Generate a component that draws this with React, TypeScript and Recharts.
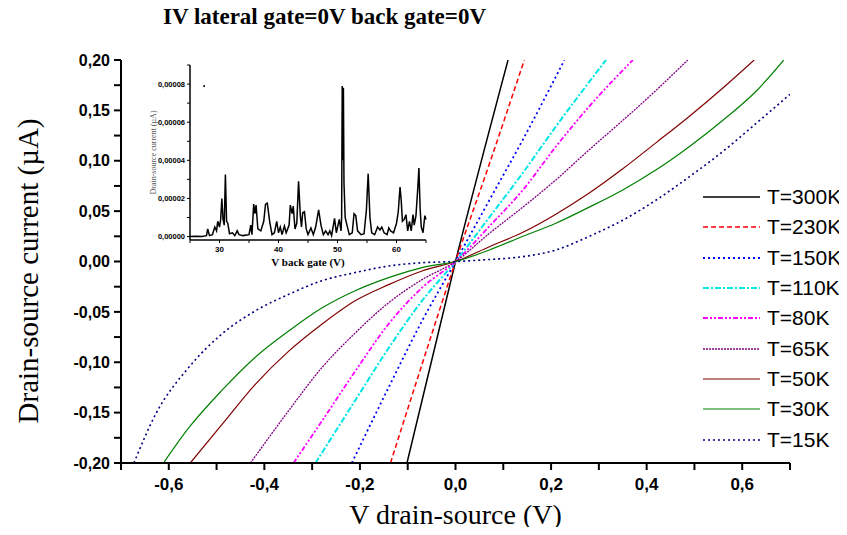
import React from "react";
import { LineChart, Line, XAxis, YAxis, Label, ReferenceDot } from "recharts";

// main I-V curves: drain-source voltage (V) and current (µA) per temperature
const T300_V = [-0.1015, 0, 0.11];
const T300_I = [-0.2, 0, 0.2];
const T230_V = [-0.136, -0.07, 0, 0.071, 0.144];
const T230_I = [-0.2, -0.102, 0, 0.097, 0.2];
const T150_V = [-0.217, -0.14, -0.07, 0, 0.071, 0.141, 0.228];
const T150_I = [-0.2, -0.125, -0.059, 0, 0.061, 0.121, 0.2];
const T110_V = [-0.293, -0.21, -0.14, -0.07, 0, 0.071, 0.141, 0.21, 0.315];
const T110_I = [-0.2, -0.138, -0.086, -0.039, 0, 0.044, 0.088, 0.134, 0.2];
const T80_V = [-0.339, -0.279, -0.21, -0.14, -0.07, 0, 0.071, 0.141, 0.21, 0.28, 0.371];
const T80_I = [-0.2, -0.158, -0.109, -0.062, -0.026, 0, 0.035, 0.071, 0.114, 0.154, 0.2];
const T65_V = [-0.429, -0.349, -0.279, -0.21, -0.14, -0.07, 0, 0.071, 0.141, 0.21, 0.28, 0.35, 0.42, 0.486];
const T65_I = [-0.2, -0.148, -0.105, -0.071, -0.041, -0.018, 0, 0.028, 0.054, 0.081, 0.111, 0.14, 0.17, 0.2];
const T50_V = [
  -0.555, -0.489, -0.419, -0.349, -0.279, -0.21, -0.14, -0.07, 0, 0.071, 0.141, 0.21, 0.28, 0.35, 0.42, 0.489,
  0.559, 0.625,
];
const T50_I = [
  -0.2, -0.162, -0.122, -0.089, -0.062, -0.039, -0.023, -0.0094, 0, 0.0147, 0.029, 0.047, 0.068, 0.092, 0.118,
  0.144, 0.172, 0.2,
];
const T30_V = [
  -0.611, -0.558, -0.489, -0.419, -0.349, -0.279, -0.21, -0.14, -0.07, 0, 0.071, 0.141, 0.21, 0.28, 0.35, 0.42,
  0.489, 0.559, 0.629, 0.687,
];
const T30_I = [
  -0.2, -0.165, -0.128, -0.095, -0.069, -0.046, -0.029, -0.016, -0.006, 0, 0.0114, 0.025, 0.038, 0.054, 0.071,
  0.091, 0.114, 0.14, 0.169, 0.2,
];
const T15_V = [
  -0.673, -0.628, -0.558, -0.489, -0.419, -0.349, -0.279, -0.21, -0.14, -0.07, 0, 0.071, 0.141, 0.21, 0.28, 0.35,
  0.42, 0.489, 0.559, 0.629, 0.7,
];
const T15_I = [
  -0.2, -0.152, -0.105, -0.072, -0.049, -0.0326, -0.019, -0.011, -0.0045, -0.0012, 0, 0.002, 0.0048, 0.0114,
  0.025, 0.041, 0.061, 0.084, 0.109, 0.137, 0.166,
];

// inset: back-gate sweep, current in units of 1e-5 µA
const GATE_V = [
  25, 26, 27, 27.8, 28, 28.3, 28.8, 29.2, 29.5, 29.7, 30, 30.2, 30.4, 30.6, 30.8, 31, 31.2, 31.4, 31.7,
  32.2, 32.6, 33, 33.3, 34, 35, 35.3, 35.5, 35.8, 36, 36.2, 36.5, 37, 37.5, 37.8, 38.1, 38.5, 38.9, 39.3,
  39.7, 40, 40.3, 40.6, 41, 41.3, 41.8, 42, 42.3, 42.5, 42.8, 43.1, 43.4, 43.7, 43.9, 44.1, 44.4, 44.7,
  45, 45.5, 45.9, 46.3, 46.8, 47.2, 47.6, 48, 48.4, 48.7, 49, 49.5, 49.8, 50.3, 50.6, 50.7, 50.8, 50.9,
  51, 51.1, 51.3, 51.6, 52, 52.5, 52.8, 53.1, 53.4, 54, 54.5, 54.9, 55.2, 55.5, 55.8, 56.3, 56.8, 57.2,
  57.5, 57.9, 58.4, 58.7, 59, 59.5, 60, 60.3, 60.6, 60.8, 61, 61.3, 61.6, 61.9, 62.2, 62.5, 62.8, 63,
  63.3, 63.6, 63.8, 64, 64.2, 64.5, 64.8, 65,
];
const GATE_I = [
  0, 0.02, 0, 0.05, 0.4, 0.05, 0.1, 0.5, 0.3, 0.8, 0.5, 0.9, 2.0, 0.9, 0.6, 3.25, 0.8, 0.7, 0.15,
  0.2, 0.05, 0.3, 0.1, 0.05, 0.1, 0.6, 0.1, 1.7, 1.2, 1.65, 0.4, 0.3, 0.8, 1.7, 1.75, 0.8, 0.1, 0.2,
  0.8, 0.2, 0.5, 0.1, 0.55, 0.2, 0.6, 1.65, 1.2, 1.6, 0.4, 0.7, 2.9, 1.1, 0.5, 1.25, 1.3, 0.4,
  0.1, 0.45, 0.1, 0.5, 1.4, 0.6, 0.1, 0.3, 0.1, 0.3, 0.05, 0.95, 0.2, 0.9, 0.3, 1.0, 7.9, 4.0,
  7.8, 2.8, 1.0, 0.6, 0.1, 0.2, 1.2, 1.1, 0.3, 0.1, 0.15, 1.4, 3.3, 1.0, 0.2, 0.1, 0.5, 0.35,
  0.5, 0.2, 0.1, 0.45, 0.3, 0.2, 0.7, 1.3, 2.6, 1.9, 0.8, 0.9, 1.15, 0.3, 0.8, 0.3, 1.15, 0.6,
  1.1, 2.5, 3.6, 1.5, 0.5, 0.2, 1.1, 0.9,
];

const X_TICKS = [-0.7, -0.6, -0.5, -0.4, -0.3, -0.2, -0.1, 0, 0.1, 0.2, 0.3, 0.4, 0.5, 0.6, 0.7];
const Y_TICKS = [
  -0.2, -0.175, -0.15, -0.125, -0.1, -0.075, -0.05, -0.025, 0, 0.025, 0.05, 0.075, 0.1, 0.125, 0.15,
  0.175, 0.2,
];
const INSET_X_TICKS = [25, 30, 35, 40, 45, 50, 55, 60, 65];
const INSET_Y_TICKS = [0, 1, 2, 3, 4, 5, 6, 7, 8, 9];

const zip = (vs: number[], is: number[]) => vs.map((v, k) => ({ v, i: is[k] }));

const series = [
  { name: "T=300K", data: zip(T300_V, T300_I), color: "#000000", dash: undefined, w: 1.5 },
  { name: "T=230K", data: zip(T230_V, T230_I), color: "#ff0000", dash: "5 3", w: 1.5 },
  { name: "T=150K", data: zip(T150_V, T150_I), color: "#0000ff", dash: "2 3", w: 1.8 },
  { name: "T=110K", data: zip(T110_V, T110_I), color: "#00e5e5", dash: "6 2 2 2", w: 2 },
  { name: "T=80K", data: zip(T80_V, T80_I), color: "#ff00ff", dash: "5 2 2 2 2 2", w: 1.8 },
  { name: "T=65K", data: zip(T65_V, T65_I), color: "#800080", dash: "2 1", w: 1.3 },
  { name: "T=50K", data: zip(T50_V, T50_I), color: "#800000", dash: undefined, w: 1.2 },
  { name: "T=30K", data: zip(T30_V, T30_I), color: "#008000", dash: undefined, w: 1.2 },
  { name: "T=15K", data: zip(T15_V, T15_I), color: "#000080", dash: "2 3", w: 1.6 },
];

const insetData = GATE_V.map((x, k) => ({ x, y: GATE_I[k] }));

const sans = "'Liberation Sans', Arial, sans-serif";
const serif = "'Liberation Serif', 'Times New Roman', serif";

const fmtX = (v: number) => (Math.round(v * 10) % 2 === 0 ? v.toFixed(1).replace(".", ",") : "");
const fmtY = (v: number) => (Math.round(v * 1000) % 50 === 0 ? v.toFixed(2).replace(".", ",") : "");
const fmtInsetY = (v: number) => (v % 2 === 0 ? (v * 1e-5).toFixed(5).replace(".", ",") : "");

const YTitle = () => (
  <text
    x={28}
    y={271}
    transform="rotate(-90 28 271)"
    textAnchor="middle"
    dominantBaseline="central"
    style={{ fontFamily: serif, fontSize: 29, fill: "#000" }}
  >
    Drain-source current (µA)
  </text>
);

export default function App() {
  return (
    <div style={{ position: "relative", width: 847, height: 535, margin: -8, background: "#fff" }}>
      <div
        style={{
          position: "absolute",
          left: 163,
          top: 5,
          fontFamily: serif,
          fontWeight: "bold",
          fontSize: 23,
          lineHeight: "23px",
          whiteSpace: "nowrap",
          color: "#000",
        }}
      >
        IV lateral gate=0V back gate=0V
      </div>

      <LineChart width={847} height={535} margin={{ top: 60, right: 57, bottom: 0, left: 16 }}>
        <XAxis
          type="number"
          dataKey="v"
          domain={[-0.7, 0.7]}
          ticks={X_TICKS}
          interval={0}
          allowDataOverflow
          tickFormatter={fmtX}
          height={72}
          tickSize={7}
          tickMargin={8}
          axisLine={{ stroke: "#000", strokeWidth: 2 }}
          tickLine={{ stroke: "#000", strokeWidth: 2 }}
          tick={{ fill: "#000", fontSize: 17, fontWeight: "bold", fontFamily: sans }}
        >
          <Label
            value="V drain-source (V)"
            position="insideBottom"
            offset={11}
            style={{ fontFamily: serif, fontSize: 28, fill: "#000" }}
          />
        </XAxis>
        <YAxis
          type="number"
          domain={[-0.2, 0.2]}
          ticks={Y_TICKS}
          interval={0}
          allowDataOverflow
          tickFormatter={fmtY}
          width={105}
          tickSize={7}
          tickMargin={4}
          axisLine={{ stroke: "#000", strokeWidth: 2 }}
          tickLine={{ stroke: "#000", strokeWidth: 2 }}
          tick={{ fill: "#000", fontSize: 16, fontWeight: "bold", fontFamily: sans }}
        >
          <Label content={YTitle} />
        </YAxis>
        {series.map((s) => (
          <Line
            key={s.name}
            data={s.data}
            dataKey="i"
            type="monotone"
            stroke={s.color}
            strokeWidth={s.w}
            strokeDasharray={s.dash}
            dot={false}
            isAnimationActive={false}
          />
        ))}
      </LineChart>

      <div style={{ position: "absolute", left: 140, top: 50 }}>
        <LineChart width={300} height={225} margin={{ top: 15, right: 14, bottom: 0, left: 8 }}>
          <XAxis
            type="number"
            dataKey="x"
            domain={[25, 65]}
            ticks={INSET_X_TICKS}
            interval={0}
            tickFormatter={(v: number) => (v % 10 === 0 ? String(v) : "")}
            height={35}
            tickSize={3}
            tickMargin={3}
            axisLine={{ stroke: "#000", strokeWidth: 1.5 }}
            tickLine={{ stroke: "#000", strokeWidth: 1 }}
            tick={{ fill: "#000", fontSize: 8, fontWeight: "bold", fontFamily: sans }}
          >
            <Label
              value="V back gate (V)"
              position="insideBottom"
              offset={9}
              style={{ fontFamily: serif, fontWeight: "bold", fontSize: 11, fill: "#000" }}
            />
          </XAxis>
          <YAxis
            type="number"
            domain={[-0.18, 9]}
            ticks={INSET_Y_TICKS}
            interval={0}
            tickFormatter={fmtInsetY}
            width={42}
            tickSize={3}
            tickMargin={2}
            axisLine={{ stroke: "#000", strokeWidth: 1.5 }}
            tickLine={{ stroke: "#000", strokeWidth: 1 }}
            tick={{ fill: "#000", fontSize: 7.5, fontWeight: "bold", fontFamily: sans }}
          >
            <Label
              value="Drain-source current (µA)"
              angle={-90}
              position="insideLeft"
              offset={5}
              style={{ fontFamily: serif, fontSize: 8, fill: "#555", textAnchor: "middle" }}
            />
          </YAxis>
          <Line
            data={insetData}
            dataKey="y"
            type="linear"
            stroke="#000"
            strokeWidth={1.5}
            dot={false}
            isAnimationActive={false}
          />
          <ReferenceDot x={27.4} y={7.9} r={1} fill="#000" stroke="none" />
        </LineChart>
      </div>

      <div style={{ position: "absolute", left: 703, top: 182 }}>
        {series.map((s) => (
          <div key={s.name} style={{ display: "flex", alignItems: "center", height: 30.3 }}>
            <svg width={57} height={4} style={{ marginRight: 7, flexShrink: 0 }}>
              <line x1={0} y1={2} x2={57} y2={2} stroke={s.color} strokeWidth={s.w} strokeDasharray={s.dash} />
            </svg>
            <span style={{ fontFamily: sans, fontSize: 21, color: "#000", lineHeight: "22px", whiteSpace: "nowrap" }}>
              {s.name}
            </span>
          </div>
        ))}
      </div>
    </div>
  );
}
